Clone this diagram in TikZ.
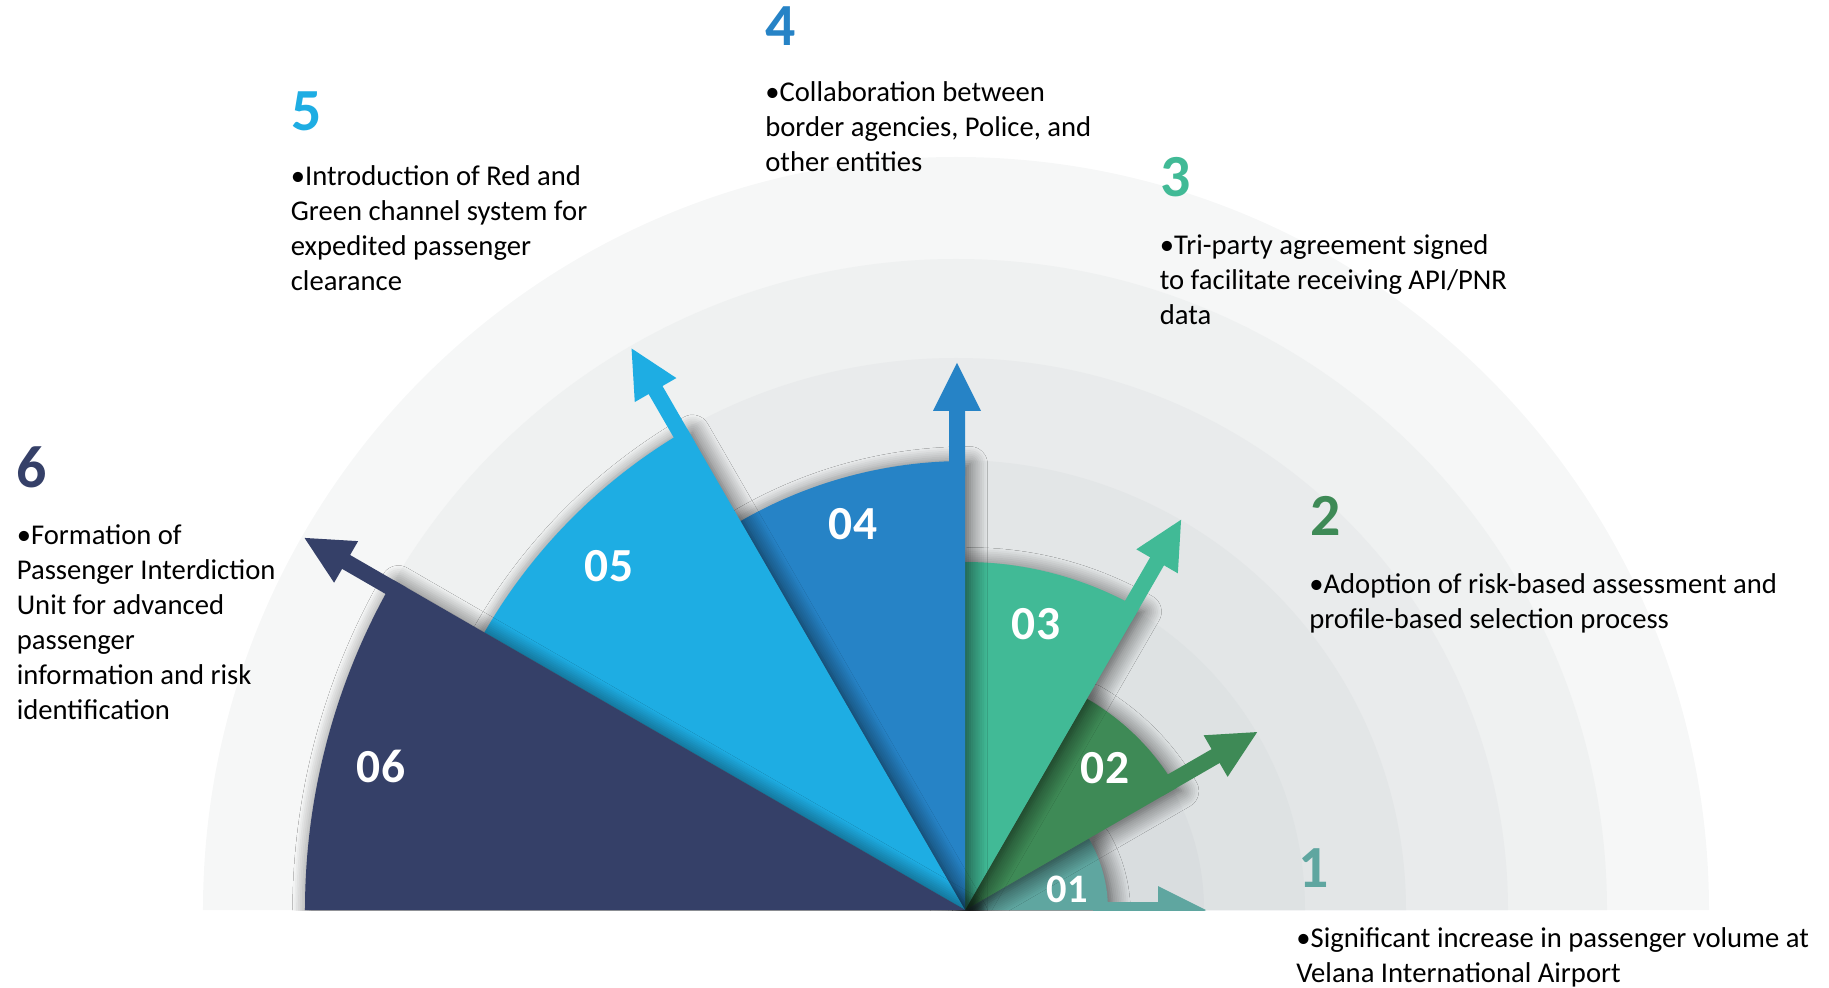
\documentclass[tikz,border=0pt]{standalone}
\usepackage{fontspec}
\setmainfont{Carlito}
\usepackage{tikz}
\usetikzlibrary{
    calc,
    positioning,
    shadows.blur
}

\begin{document}
\begin{tikzpicture}[
    numlbl/.style={
        text=white,
        inner sep=0pt,
        anchor=center,
        font=\bfseries\fontsize{27}{30}\selectfont
    },
    bigdigit/.style={
        inner sep=0pt,
        anchor=base west,
        font=\bfseries\fontsize{34}{40}\selectfont
    },
    desc/.style={
        inner sep=0pt,
        align=left,
        anchor=north west,
        font=\fontsize{16.3}{19.9}\selectfont
    },
    sector/.style={
        blur shadow={
            shadow xshift=0.1cm,
            shadow yshift=-0.06cm,
            shadow blur radius=0.35cm,
            shadow blur steps=10,
            shadow opacity=65
        }
    }]
    \definecolor{r1}{HTML}{F6F7F7}
    \definecolor{r2}{HTML}{EFF1F1}
    \definecolor{r3}{HTML}{E9EBEC}
    \definecolor{r4}{HTML}{E3E6E7}
    \definecolor{r5}{HTML}{DEE2E3}
    \definecolor{r6}{HTML}{D9DDDF}

    \definecolor{s1}{RGB}{95, 166, 160}
    \definecolor{s2}{RGB}{62, 138, 86}
    \definecolor{s3}{RGB}{65, 186, 150}
    \definecolor{s4}{RGB}{38, 131, 198}
    \definecolor{s5}{RGB}{30, 173, 227}
    \definecolor{s6}{RGB}{53, 64, 104}

    \useasboundingbox (-19.3,-1.54) rectangle (17.28,18.2);

    \begin{scope}
    \clip (-19.3,0) rectangle (17.28,18.2);

    % background rings
    \fill[r1] (-15.24,0) arc[start angle=180, end angle=0, radius=15.06] -- cycle;
    \fill[r2] (-13.2,0) arc[start angle=180, end angle=0, radius=13.02] -- cycle;
    \fill[r3] (-11.22,0) arc[start angle=180, end angle=0, radius=11.04] -- cycle;
    \fill[r4] (-9.18,0) arc[start angle=180, end angle=0, radius=9.0] -- cycle;
    \fill[r5] (-7.16,0) arc[start angle=180, end angle=0, radius=6.98] -- cycle;
    \fill[r6] (-5.14,0) arc[start angle=180, end angle=0, radius=4.96] -- cycle;

    % sectors with arrows
    \fill[s1, sector] (0,0) -- (0:2.86) arc[start angle=0, end angle=30, radius=2.86] -- cycle;
    \fill[s1] (2.56,-0.16) -- (3.86,-0.16) -- (3.86,-0.48) -- (4.82,0) -- (3.86,0.48) -- (3.86,0.16) -- (2.56,0.16) -- cycle;

    \fill[s2, sector] (0,0) -- (30:4.88) arc[start angle=30, end angle=60, radius=4.88] -- cycle;
    \fill[s2, rotate=30] (4.58,0) -- (5.88,0) -- (5.88,-0.32) -- (6.84,0.16) -- (5.88,0.64) -- (5.88,0.32) -- (4.58,0.32) -- cycle;

    \fill[s3, sector] (0,0) -- (60:6.96) arc[start angle=60, end angle=90, radius=6.96] -- cycle;
    \fill[s3, rotate=60] (6.66,0) -- (7.96,0) -- (7.96,-0.32) -- (8.92,0.16) -- (7.96,0.64) -- (7.96,0.32) -- (6.66,0.32) -- cycle;

    \fill[s4, sector] (0,0) -- (90:8.98) arc[start angle=90, end angle=120, radius=8.98] -- cycle;
    \fill[s4, rotate=90] (8.68,0) -- (9.98,0) -- (9.98,-0.32) -- (10.94,0.16) -- (9.98,0.64) -- (9.98,0.32) -- (8.68,0.32) -- cycle;

    \fill[s5, sector] (0,0) -- (120:11.1) arc[start angle=120, end angle=150, radius=11.1] -- cycle;
    \fill[s5, rotate=120] (10.8,0) -- (12.1,0) -- (12.1,-0.32) -- (13.06,0.16) -- (12.1,0.64) -- (12.1,0.32) -- (10.8,0.32) -- cycle;

    \fill[s6, sector] (0,0) -- (150:13.2) arc[start angle=150, end angle=180, radius=13.2] -- cycle;
    \fill[s6, rotate=150] (12.9,0) -- (14.2,0) -- (14.2,-0.32) -- (15.16,0.16) -- (14.2,0.64) -- (14.2,0.32) -- (12.9,0.32) -- cycle;
    \end{scope}

    % numbers on the sectors
    \node[numlbl, font=\bfseries\fontsize{23}{26}\selectfont] (n1) at (2.04,0.42) {01};
    \node[numlbl] (n2) at (2.8,2.84) {02};
    \node[numlbl] (n3) at (1.42,5.72) {03};
    \node[numlbl] (n4) at (-2.24,7.72) {04};
    \node[numlbl] (n5) at (-7.12,6.88) {05};
    \node[numlbl] (n6) at (-11.68,2.88) {06};

    % descriptions
    \node[bigdigit, s1] (d1) at (6.67,0.45) {1};
    \node[desc] (t1) at (6.62,-0.35) {•Significant increase in passenger volume at\\Velana International Airport};

    \node[bigdigit, s2] (d2) at (6.9,7.49) {2};
    \node[desc] (t2) at (6.88,6.74) {•Adoption of risk-based assessment and\\profile-based selection process};

    \node[bigdigit, s3] (d3) at (3.91,14.26) {3};
    \node[desc] (t3) at (3.89,13.51) {•Tri-party agreement signed\\to facilitate receiving API/PNR\\data};

    \node[bigdigit, s4] (d4) at (-4.0,17.29) {4};
    \node[desc] (t4) at (-4.0,16.57) {•Collaboration between\\border agencies, Police, and\\other entities};

    \node[bigdigit, s5] (d5) at (-13.47,15.59) {5};
    \node[desc] (t5) at (-13.49,14.89) {•Introduction of Red and\\Green channel system for\\expedited passenger\\clearance};

    \node[bigdigit, s6] (d6) at (-18.97,8.45) {6};
    \node[desc] (t6) at (-18.97,7.72) {•Formation of\\Passenger Interdiction\\Unit for advanced\\passenger\\information and risk\\identification};

\end{tikzpicture}
\end{document}
